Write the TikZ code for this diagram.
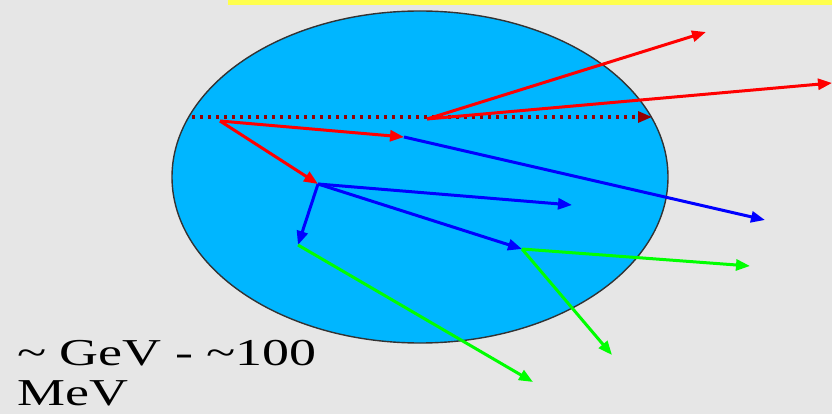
\documentclass[tikz,border=0pt]{standalone}
\usepackage{fontspec}
\setmainfont{Liberation Serif}
\usetikzlibrary{arrows.meta}
\definecolor{bgray}{RGB}{230,230,230}
\definecolor{bowl}{RGB}{0,182,255}
\definecolor{hiyellow}{RGB}{255,255,77}
\definecolor{beamred}{RGB}{150,0,0}
\tikzset{
  track/.style={line width=3pt, -{Triangle[length=14pt,width=11pt]}},
  hadron/.style={track, red},
  shower/.style={track, blue},
  photon/.style={track, green},
}

\begin{document}
\begin{tikzpicture}[x=1pt, y=-1pt]
% page and frame
\fill[bgray] (0,0) rectangle (832,414);
\useasboundingbox (0,0) rectangle (832,414);
\fill[hiyellow] (228,0) rectangle (832,5);

% target volume
\draw[fill=bowl, draw=black!80, line width=1.4pt] (420,177) ellipse (248 and 166);

% incoming beam
\coordinate (beam0) at (192,117);
\coordinate (beam1) at (652,117);
\draw[beamred, line width=3.2pt, dash pattern=on 3.2pt off 4.8pt,
  -{Triangle[length=14pt,width=11pt]}] (beam0) -- (beam1);

% vertices
\coordinate (vA) at (220,121);
\coordinate (vB) at (318,184);
\coordinate (vC) at (522,249);
\coordinate (vD) at (427,119);
\coordinate (vE) at (404,137);
\coordinate (vF) at (298,245);

% end points
\coordinate (eD1) at (706,32);
\coordinate (eD2) at (832,83);
\coordinate (eE) at (765,220);
\coordinate (eB) at (572,205);
\coordinate (eC1) at (750,266);
\coordinate (eC2) at (612,355);
\coordinate (eF) at (533,382);

% first generation
\draw[hadron] (vA) -- (vE);
\draw[hadron] (vA) -- (vB);
\draw[hadron] (vD) -- (eD1);
\draw[hadron] (vD) -- (eD2);

% second generation
\draw[shower] (vE) -- (eE);
\draw[shower] (vB) -- (vF);
\draw[shower] (vB) -- (eB);
\draw[shower] (vB) -- (vC);

% third generation
\draw[photon] (vF) -- (eF);
\draw[photon] (vC) -- (eC1);
\draw[photon] (vC) -- (eC2);

% energy scale
\node[anchor=base west, align=left, xscale=1.42, inner sep=0pt,
  font=\fontsize{38}{40}\selectfont] (scale) at (17,405)
  {\textasciitilde{} GeV - \textasciitilde100\\MeV};
\end{tikzpicture}
\end{document}
